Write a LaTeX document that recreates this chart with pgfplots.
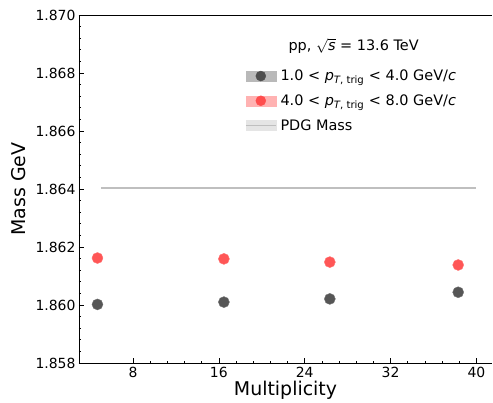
\documentclass[border=0pt]{standalone}
\usepackage{fontspec}
\setmainfont{DejaVu Sans}
\usepackage{pgfplots}
\pgfplotsset{compat=1.18}
\definecolor{dgray}{HTML}{4D4D4D}
\definecolor{lred}{HTML}{FF4D4D}
\definecolor{pdg}{HTML}{BFBFBF}
\begin{document}
\begin{tikzpicture}
\begin{axis}[
  scale only axis,
  width=413bp, height=348bp,
  xmin=2.97, xmax=41.45,
  ymin=1.858, ymax=1.870,
  axis y line*=left,
  xtick={8,16,24,32,40},
  ytick={1.858,1.860,1.862,1.864,1.866,1.868,1.870},
  minor x tick num=4,
  minor y tick num=4,
  tick align=inside,
  axis line style={line width=0.9pt},
  major tick length=5bp, minor tick length=2.5bp,
  tick style={black, line width=0.7pt},
  xtick pos=bottom, ytick pos=left,
  /pgf/number format/assume math mode=true,
  yticklabel style={/pgf/number format/.cd, fixed, fixed zerofill, precision=3},
  scaled y ticks=false,
  ticklabel style={font=\fontsize{14}{16}\selectfont},
  xlabel={Multiplicity}, ylabel={Mass GeV},
  every axis y label/.style={at={(axis description cs:0,0.5)}, rotate=90, anchor=center, yshift=60bp, font=\fontsize{19}{22}\selectfont},
  every axis x label/.style={at={(axis description cs:0.5,0)}, anchor=center, yshift=-27.5bp, font=\fontsize{19}{22}\selectfont},
  xticklabel style={yshift=-0.5bp},
  clip=false,
  legend style={at={(axis description cs:0.402,0.847)}, anchor=north west, draw=none, fill=none,
    font=\fontsize{14.5}{17}\selectfont, row sep=9.5bp, inner sep=0pt,
    nodes={inner sep=1.5bp}},
  legend cell align=left,
]
\addplot[forget plot, only marks, mark=*, mark size=5.5bp, mark options={fill=dgray, draw=dgray!80, fill opacity=0.95}]
  coordinates {(4.69,1.86002) (16.47,1.86010) (26.34,1.86021) (38.3,1.86044)};
\addplot[forget plot, only marks, mark=*, mark size=5.5bp, mark options={fill=lred, draw=lred!80, fill opacity=0.95}]
  coordinates {(4.69,1.86162) (16.47,1.86159) (26.34,1.86148) (38.3,1.86138)};
\addplot[forget plot, pdg, line width=1.4pt] coordinates {(5,1.86403) (40,1.86403)};
\addlegendimage{legend image code/.code={\fill[gray!55] (0bp,-5bp) rectangle (30bp,5bp); \fill[dgray] (15bp,0) circle (5bp); \path (33bp,0);}}
\addlegendentry{1.0 < \textit{p}\textsubscript{\textit{T}, trig} < 4.0 GeV/\textit{c}}
\addlegendimage{legend image code/.code={\fill[red!30] (0bp,-5bp) rectangle (30bp,5bp); \fill[lred] (15bp,0) circle (5bp); \path (33bp,0);}}
\addlegendentry{4.0 < \textit{p}\textsubscript{\textit{T}, trig} < 8.0 GeV/\textit{c}}
\addlegendimage{legend image code/.code={\fill[gray!20] (0bp,-5bp) rectangle (30bp,5bp); \draw[pdg, line width=1.2pt] (0bp,0) -- (30bp,0); \path (33bp,0);}}
\addlegendentry{PDG Mass}
\node[anchor=center, font=\fontsize{14.5}{17}\selectfont] at (axis description cs:0.665,0.912) {pp, $\sqrt{\mbox{\textit{s}}}$ = 13.6 TeV};
\end{axis}
\path (current axis.south west) ++(-79bp,-39bp) coordinate (bbA);
\path (current axis.north east) ++(1bp,15bp) coordinate (bbB);
\path (bbA) rectangle (bbB);
\end{tikzpicture}
\end{document}
